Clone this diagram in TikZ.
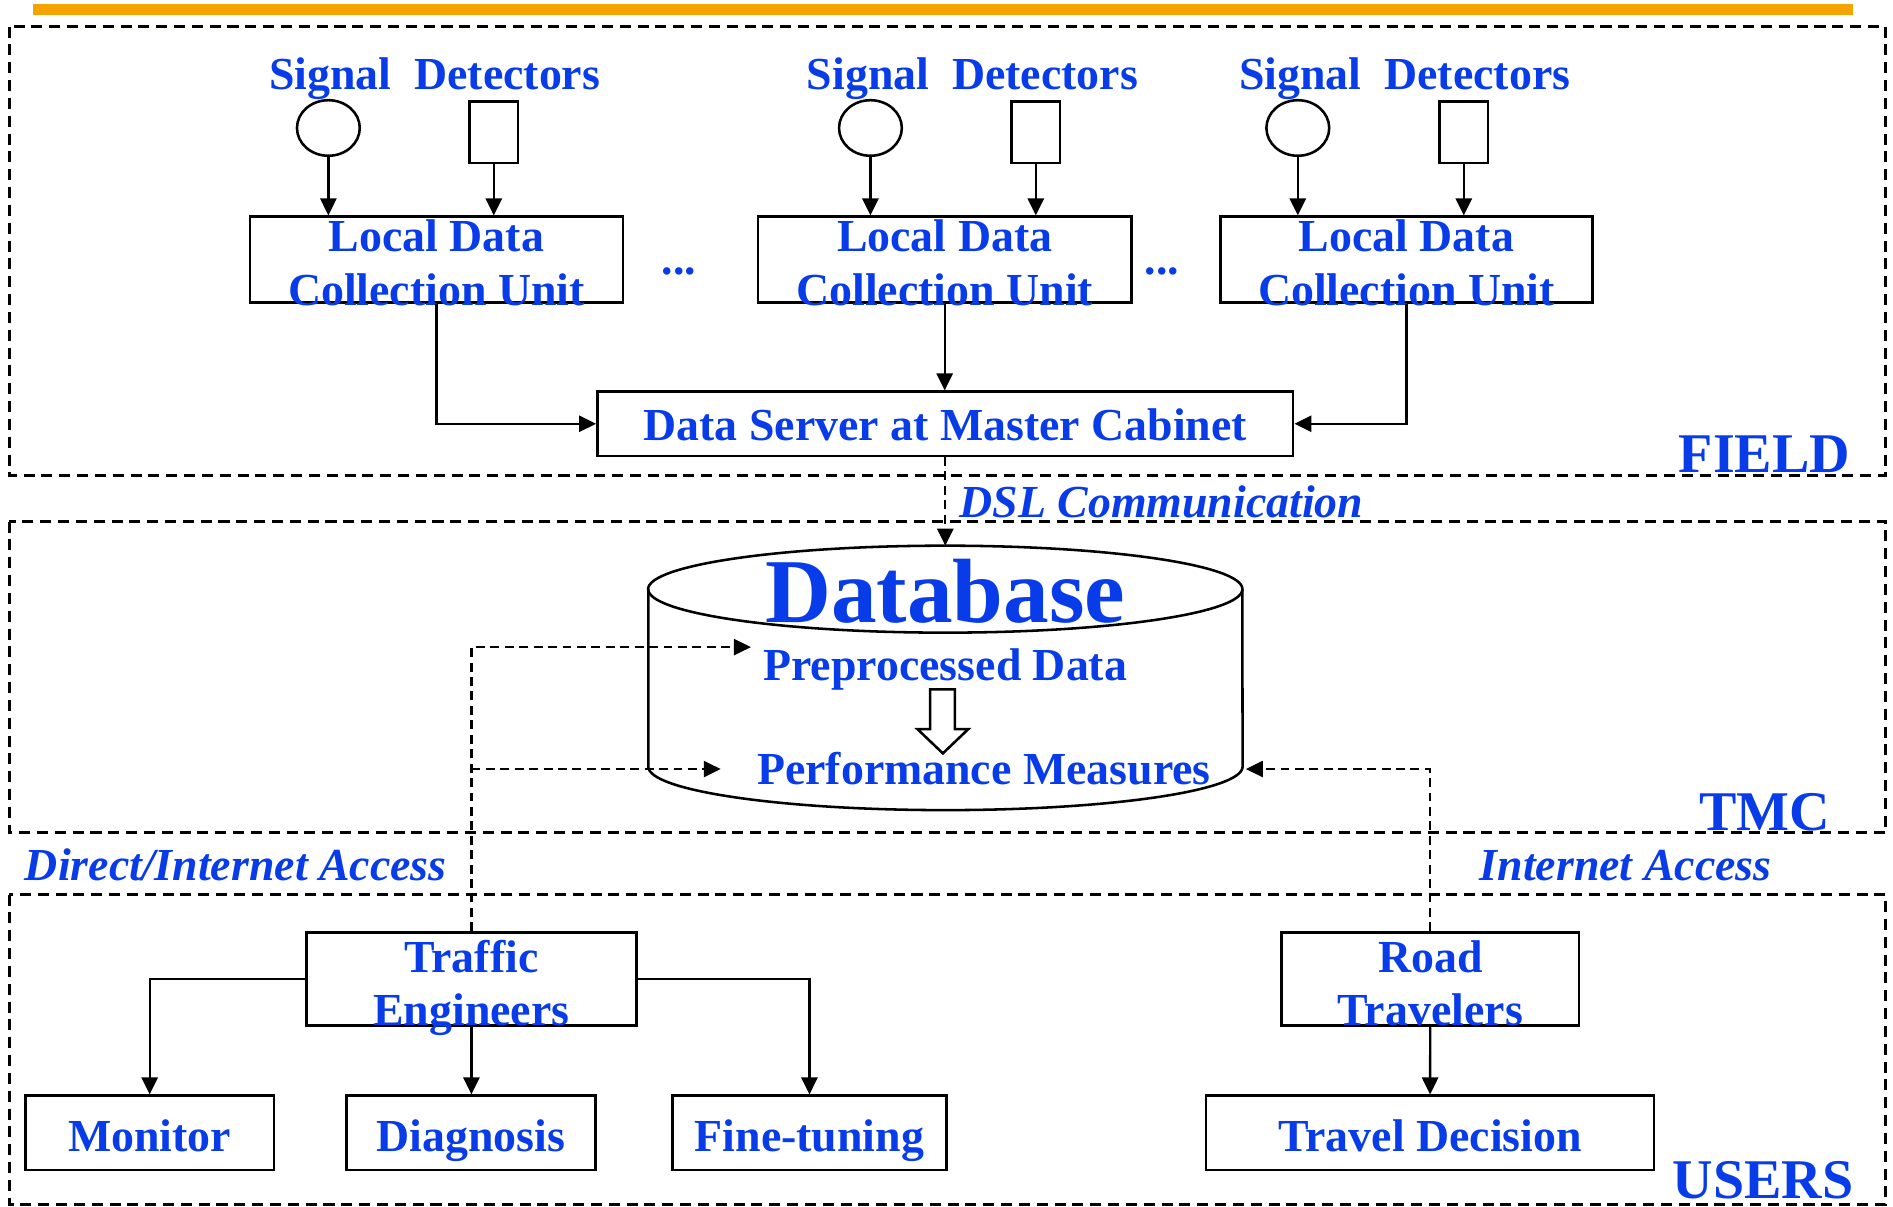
\documentclass[tikz,border=0pt]{standalone}
\usepackage{fontspec}
\setmainfont{Liberation Serif}
\usetikzlibrary{calc,arrows.meta,shapes.geometric}
\definecolor{dsblue}{RGB}{8,60,232}
\definecolor{dsorange}{RGB}{244,163,0}

\begin{document}
\begin{tikzpicture}[x=0.01cm, y=-0.01cm,
  region/.style={draw, line width=0.7pt, dash pattern=on 2.6pt off 1.6pt},
  box/.style={draw, line width=0.6pt, inner sep=0pt, minimum height=0.71cm},
  det/.style={draw, line width=0.6pt, inner sep=0pt, minimum width=0.40cm, minimum height=0.51cm},
  sig/.style={draw, ellipse, line width=0.6pt, inner sep=0pt, minimum width=0.52cm, minimum height=0.46cm},
  lbl/.style={text=dsblue, inner sep=0pt, align=center, font=\bfseries\fontsize{10.8}{12.6}\selectfont},
  acc/.style={lbl, font=\bfseries\itshape\fontsize{10.8}{12.6}\selectfont},
  area/.style={lbl, font=\bfseries\fontsize{13.2}{15}\selectfont},
  arr/.style={line width=0.55pt, -{Triangle[length=4pt, width=3.8pt]}},
  darr/.style={arr, line width=0.5pt, dash pattern=on 2.1pt off 1.3pt}]
\useasboundingbox (0, 0) rectangle (1568, 999);
\fill[dsorange] (27, 3) rectangle (1535, 12.4);

% field
\draw[region] (7.5, 22) rectangle (1562, 394);
\node (field) at (1390, 391) [area, anchor=base west] {FIELD};
\node (sd1) at (360, 74.5) [lbl, anchor=base] {Signal\enspace Detectors};
\node (sd2) at (805.5, 74.5) [lbl, anchor=base] {Signal\enspace Detectors};
\node (sd3) at (1163.5, 74.5) [lbl, anchor=base] {Signal\enspace Detectors};
\node (sig1) at (272, 106) [sig] {};
\node (sig2) at (721, 106) [sig] {};
\node (sig3) at (1075, 106) [sig] {};
\node (det1) at (409, 109.5) [det] {};
\node (det2) at (858, 109.5) [det] {};
\node (det3) at (1212.5, 109.5) [det] {};
\node (ldcu1) at (361.5, 215) [box, minimum width=3.09cm] {};
\node (ldcu2) at (782.5, 215) [box, minimum width=3.09cm] {};
\node (ldcu3) at (1165, 215) [box, minimum width=3.08cm] {};
\node (ldcu1txt) at (361.5, 181.3) [lbl, anchor=north] {Local Data\\Collection Unit};
\node (ldcu2txt) at (782.5, 181.3) [lbl, anchor=north] {Local Data\\Collection Unit};
\node (ldcu3txt) at (1165, 181.3) [lbl, anchor=north] {Local Data\\Collection Unit};
\node (dots1) at (562.5, 227) [lbl, anchor=base] {...};
\node (dots2) at (962.5, 227) [lbl, anchor=base] {...};
\draw[arr] (sig1) -- (sig1 |- ldcu1.north);
\draw[arr] (det1) -- (det1 |- ldcu1.north);
\draw[arr] (sig2) -- (sig2 |- ldcu2.north);
\draw[arr] (det2) -- (det2 |- ldcu2.north);
\draw[arr] (sig3) -- (sig3 |- ldcu3.north);
\draw[arr] (det3) -- (det3 |- ldcu3.north);
\node (server) at (783, 351) [box, minimum width=5.76cm, minimum height=0.53cm] {};
\node (servertxt) at (783, 365) [lbl, anchor=base] {Data Server at Master Cabinet};
\draw[arr] (ldcu1) |- (server);
\draw[arr] (ldcu2.south) -- (ldcu2.south |- server.north);
\draw[arr] (ldcu3) |- (server);

% tmc
\draw[region] (7.5, 432) rectangle (1562, 689.5);
\node (tmc) at (1407, 688) [area, anchor=base west] {TMC};
\coordinate (dbtop) at (783, 452);
\draw[darr] (server) -- (dbtop);
\node (dsl) at (794, 429) [acc, anchor=base west] {DSL Communication};
\draw[line width=0.6pt] (783, 488) ellipse [x radius=2.46cm, y radius=0.36cm];
\draw[line width=0.6pt] (537, 488) -- (537, 635)
  arc [start angle=180, end angle=360, x radius=2.46cm, y radius=0.36cm] -- (1029, 488);
\node (dbname) at (783, 516) [lbl, anchor=base, font=\bfseries\fontsize{21.5}{24}\selectfont] {Database};
\node (prep) at (783, 564) [lbl, anchor=base] {Preprocessed Data};
\node (perf) at (815, 650) [lbl, anchor=base] {Performance Measures};
\draw[line width=0.6pt, fill=white] (770.5, 571) -- (791, 571) -- (791, 604) -- (802, 604)
  -- (781, 624) -- (760, 604) -- (770.5, 604) -- cycle;
\coordinate (prepin) at (622, 536);
\coordinate (perfin) at (597, 637);
\coordinate (perfout) at (1032, 637);

% users
\draw[region] (7.5, 741) rectangle (1562, 997.5);
\node (users) at (1385, 993) [area, anchor=base west] {USERS};
\node (dia) at (20, 729.5) [acc, anchor=base west] {Direct/Internet Access};
\node (ia) at (1225, 729.5) [acc, anchor=base west] {Internet Access};
\node (te) at (390.5, 811) [box, minimum width=2.73cm, minimum height=0.77cm] {};
\node (tetxt) at (390.5, 778) [lbl, anchor=north] {Traffic\\Engineers};
\node (rt) at (1184.75, 811) [box, minimum width=2.465cm, minimum height=0.77cm] {};
\node (rttxt) at (1184.75, 778.3) [lbl, anchor=north] {Road\\Travelers};
\node (monitor) at (124, 938.3) [box, minimum width=2.06cm, minimum height=0.614cm] {};
\node (diag) at (390, 938.3) [box, minimum width=2.06cm, minimum height=0.614cm] {};
\node (fine) at (670.5, 938.3) [box, minimum width=2.27cm, minimum height=0.614cm] {};
\node (td) at (1184.5, 938.3) [box, minimum width=3.71cm, minimum height=0.614cm] {};
\node (monitortxt) at (124, 954) [lbl, anchor=base] {Monitor};
\node (diagtxt) at (390, 954) [lbl, anchor=base] {Diagnosis};
\node (finetxt) at (670.5, 954) [lbl, anchor=base] {Fine-tuning};
\node (tdtxt) at (1184.5, 954) [lbl, anchor=base] {Travel Decision};
\draw[arr] (te.west) -| (monitor);
\draw[arr] (te.south) -- (te.south |- diag.north);
\draw[arr] (te.east) -| (fine);
\draw[arr] (rt) -- (td);
\draw[darr] (te.north) |- (prepin);
\draw[darr] (te.north |- perfin) -- (perfin);
\draw[darr] (rt.north) |- (perfout);
\end{tikzpicture}
\end{document}
